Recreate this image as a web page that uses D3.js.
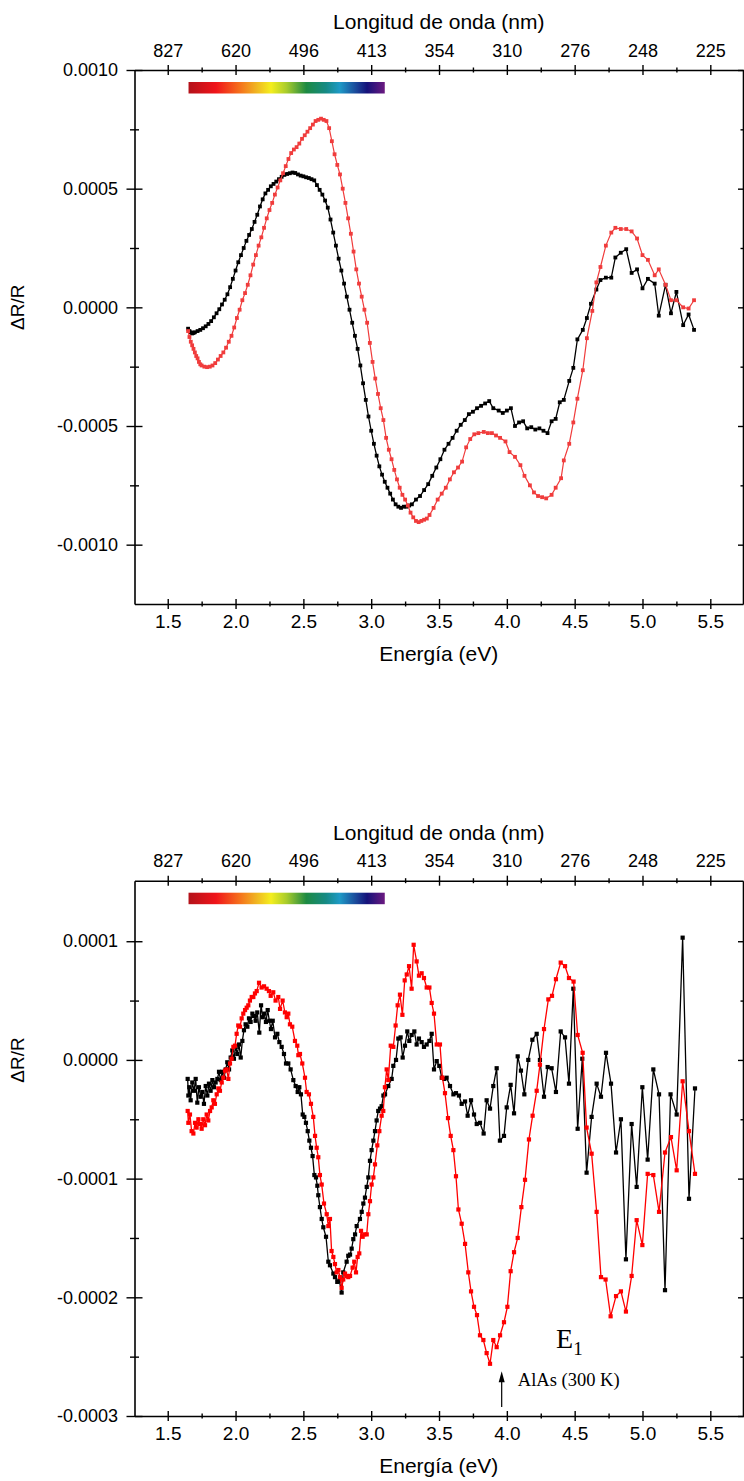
<!DOCTYPE html>
<html>
<head>
<meta charset="utf-8">
<script src="https://cdn.jsdelivr.net/npm/d3@7"></script>
<style>
  body { margin: 0; background: #fff; }
  svg { display: block; }
  text { font-family: "Liberation Sans", Arial, sans-serif; fill: #000; }
</style>
</head>
<body>
<div id="chart"></div>
<script>
/**********************/
/******* data         */
/**********************/

// energy ticks (eV) and the matching wavelength labels of the top axis
const energyTicks = [1.5, 2.0, 2.5, 3.0, 3.5, 4.0, 4.5, 5.0, 5.5];
const energyMinor = [1.75, 2.25, 2.75, 3.25, 3.75, 4.25, 4.75, 5.25];
const waveLabels = ["827", "620", "496", "413", "354", "310", "276", "248", "225"];

// visible spectrum bar (nm) and its colours
const spectrumNm = [750, 400];
const spectrumStops = [
    [0.00, "#b3121a"], [0.14, "#f0141a"], [0.26, "#f5701c"], [0.35, "#f0b822"],
    [0.42, "#f4ee1e"], [0.50, "#a8cc2c"], [0.60, "#1d8a42"], [0.70, "#168a84"],
    [0.77, "#1e9ac6"], [0.85, "#1b4c9c"], [0.91, "#15127a"], [1.00, "#6c1a80"]
];

// top panel, [E (eV), dR/R in units of 1e-4]
const topYMajor = [0.0010, 0.0005, 0.0000, -0.0005, -0.0010];
const topYMinor = [0.00075, 0.00025, -0.00025, -0.00075];
const topBlack = [
    [1.65,-0.9],[1.66,-1.0],[1.67,-1.05],[1.68,-1.1],[1.69,-1.08],[1.70,-1.05],[1.72,-1.0],[1.74,-0.95],
    [1.76,-0.88],[1.78,-0.8],[1.80,-0.7],[1.82,-0.58],[1.84,-0.42],[1.86,-0.25],[1.88,-0.08],[1.90,0.12],
    [1.92,0.32],[1.94,0.55],[1.96,0.85],[1.98,1.2],[2.00,1.55],[2.02,1.9],[2.04,2.2],[2.06,2.5],
    [2.08,2.8],[2.10,3.05],[2.12,3.3],[2.14,3.6],[2.16,3.9],[2.18,4.25],[2.20,4.55],[2.22,4.8],
    [2.24,4.95],[2.26,5.1],[2.28,5.2],[2.30,5.3],[2.32,5.4],[2.34,5.5],[2.36,5.58],[2.38,5.62],
    [2.40,5.65],[2.42,5.68],[2.44,5.66],[2.46,5.6],[2.48,5.55],[2.50,5.52],[2.52,5.48],[2.54,5.45],
    [2.56,5.4],[2.58,5.35],[2.60,5.15],[2.62,4.95],[2.64,4.75],[2.66,4.5],[2.68,4.2],[2.70,3.7],
    [2.72,3.15],[2.74,2.6],[2.76,2.05],[2.78,1.55],[2.80,1.0],[2.82,0.45],[2.84,-0.1],[2.86,-0.65],
    [2.88,-1.2],[2.90,-1.75],[2.92,-2.45],[2.94,-3.2],[2.96,-3.9],[2.98,-4.6],[3.00,-5.2],[3.02,-5.75],
    [3.04,-6.25],[3.06,-6.7],[3.08,-7.05],[3.10,-7.35],[3.12,-7.6],[3.14,-7.85],[3.16,-8.1],[3.18,-8.3],
    [3.20,-8.4],[3.22,-8.45],[3.24,-8.4],[3.26,-8.4],[3.28,-8.35],[3.30,-8.3],[3.33,-8.1],[3.36,-7.95],
    [3.39,-7.7],[3.42,-7.45],[3.45,-7.1],[3.48,-6.75],[3.51,-6.4],[3.54,-6.0],[3.57,-5.75],[3.60,-5.5],
    [3.63,-5.2],[3.66,-4.95],[3.69,-4.75],[3.72,-4.5],[3.75,-4.4],[3.78,-4.25],[3.81,-4.15],[3.84,-4.05],
    [3.87,-3.95],[3.90,-4.25],[3.94,-4.35],[3.97,-4.45],[4.00,-4.35],[4.03,-4.25],[4.06,-5.0],[4.09,-4.85],
    [4.12,-4.8],[4.15,-5.1],[4.18,-5.05],[4.21,-5.15],[4.24,-5.1],[4.27,-5.2],[4.30,-5.3],[4.33,-4.8],
    [4.36,-4.7],[4.39,-4.0],[4.42,-3.9],[4.46,-3.1],[4.49,-2.55],[4.52,-1.35],[4.56,-0.95],[4.59,-0.45],
    [4.62,0.15],[4.66,0.75],[4.69,1.15],[4.73,1.25],[4.77,1.25],[4.80,2.1],[4.84,2.3],[4.88,2.45],
    [4.92,1.45],[4.96,1.6],[5.00,0.8],[5.04,1.2],[5.09,1.0],[5.12,-0.35],[5.17,0.95],[5.21,-0.25],
    [5.25,0.65],[5.30,-0.75],[5.34,-0.3],[5.38,-0.95]
];
const topRed = [
    [1.65,-1.0],[1.66,-1.25],[1.67,-1.45],[1.68,-1.6],[1.69,-1.75],[1.70,-1.9],[1.71,-2.05],[1.72,-2.15],
    [1.73,-2.3],[1.74,-2.4],[1.75,-2.45],[1.77,-2.5],[1.79,-2.52],[1.81,-2.5],[1.83,-2.45],[1.85,-2.35],
    [1.87,-2.2],[1.89,-2.05],[1.91,-1.9],[1.93,-1.7],[1.95,-1.45],[1.97,-1.2],[1.99,-0.85],[2.01,-0.45],
    [2.03,-0.1],[2.05,0.3],[2.07,0.6],[2.09,0.95],[2.11,1.35],[2.13,1.8],[2.15,2.2],[2.17,2.6],
    [2.19,2.95],[2.21,3.35],[2.23,3.75],[2.25,4.1],[2.27,4.4],[2.29,4.75],[2.31,5.05],[2.33,5.35],
    [2.35,5.65],[2.37,5.95],[2.39,6.25],[2.41,6.5],[2.43,6.65],[2.45,6.75],[2.47,6.9],[2.49,7.1],
    [2.51,7.25],[2.53,7.4],[2.55,7.55],[2.57,7.7],[2.59,7.85],[2.61,7.9],[2.63,7.95],[2.65,7.9],
    [2.67,7.85],[2.69,7.55],[2.71,7.0],[2.73,6.45],[2.75,6.0],[2.77,5.6],[2.79,5.0],[2.81,4.4],
    [2.83,3.75],[2.85,3.1],[2.87,2.35],[2.89,1.6],[2.91,1.0],[2.93,0.45],[2.95,-0.1],[2.97,-0.65],
    [2.99,-1.5],[3.01,-2.3],[3.03,-3.0],[3.05,-3.65],[3.07,-4.25],[3.09,-4.75],[3.11,-5.5],[3.13,-6.0],
    [3.15,-6.4],[3.17,-6.85],[3.19,-7.25],[3.21,-7.6],[3.23,-7.9],[3.25,-8.1],[3.27,-8.35],[3.29,-8.65],
    [3.31,-8.85],[3.33,-9.0],[3.35,-9.05],[3.37,-9.0],[3.39,-8.95],[3.41,-8.9],[3.43,-8.75],[3.46,-8.45],
    [3.49,-8.1],[3.52,-7.85],[3.55,-7.6],[3.58,-7.25],[3.61,-6.95],[3.64,-6.75],[3.67,-6.5],[3.70,-5.9],
    [3.73,-5.55],[3.76,-5.35],[3.79,-5.3],[3.83,-5.25],[3.86,-5.3],[3.89,-5.3],[3.92,-5.4],[3.95,-5.5],
    [3.99,-5.65],[4.02,-6.1],[4.06,-6.3],[4.10,-6.65],[4.13,-7.1],[4.17,-7.5],[4.20,-7.8],[4.23,-7.95],
    [4.26,-8.0],[4.29,-8.05],[4.33,-7.9],[4.36,-7.6],[4.40,-7.2],[4.42,-6.45],[4.46,-5.75],[4.49,-4.85],
    [4.52,-3.85],[4.56,-2.65],[4.59,-1.3],[4.63,-0.15],[4.66,1.05],[4.69,1.7],[4.73,2.6],[4.77,3.15],
    [4.80,3.35],[4.84,3.3],[4.88,3.3],[4.92,3.2],[4.96,2.9],[5.00,2.2],[5.04,2.0],[5.09,1.35],
    [5.12,1.6],[5.17,0.95],[5.21,0.3],[5.25,0.3],[5.30,0.0],[5.34,-0.05],[5.38,0.3]
];

// bottom panel, [E (eV), dR/R in units of 1e-5]
const botYMajor = [0.0001, 0.0000, -0.0001, -0.0002, -0.0003];
const botYMinor = [0.00005, -0.00005, -0.00015, -0.00025];
const botBlack = [
    [1.647,-1.6],[1.652,-3.0],[1.659,-2.3],[1.669,-3.4],[1.681,-1.9],[1.694,-2.6],[1.706,-1.6],[1.718,-3.6],
    [1.730,-2.3],[1.743,-3.1],[1.755,-2.7],[1.767,-3.7],[1.780,-2.2],[1.792,-3.0],[1.804,-2.0],[1.816,-2.6],
    [1.829,-1.7],[1.841,-2.3],[1.853,-1.9],[1.866,-1.6],[1.878,-1.0],[1.890,-1.7],[1.902,-1.0],[1.915,-1.5],
    [1.927,-0.8],[1.939,-0.2],[1.952,-0.8],[1.964,0.2],[1.976,0.8],[1.988,0.1],[2.001,1.1],[2.013,0.5],
    [2.025,1.3],[2.038,0.2],[2.050,1.6],[2.062,2.5],[2.074,3.0],[2.087,2.8],[2.099,3.5],[2.111,3.2],
    [2.124,3.9],[2.136,3.7],[2.148,3.3],[2.160,4.0],[2.175,2.3],[2.188,4.6],[2.200,3.6],[2.212,3.9],
    [2.224,3.2],[2.237,4.2],[2.249,3.3],[2.261,2.6],[2.274,3.3],[2.291,1.9],[2.308,2.2],[2.323,1.5],
    [2.340,1.1],[2.357,0.5],[2.372,-0.3],[2.389,-0.3],[2.406,-0.8],[2.426,-1.7],[2.443,-2.2],[2.458,-2.7],
    [2.470,-2.3],[2.482,-2.9],[2.495,-4.6],[2.507,-4.8],[2.519,-5.3],[2.532,-6.0],[2.544,-6.8],[2.556,-7.4],
    [2.568,-8.1],[2.581,-9.7],[2.593,-9.9],[2.603,-10.6],[2.610,-11.4],[2.622,-12.4],[2.635,-13.4],[2.647,-14.1],
    [2.667,-14.9],[2.684,-17.0],[2.696,-17.3],[2.721,-18.0],[2.733,-18.3],[2.750,-18.7],[2.765,-18.6],[2.782,-19.6],
    [2.794,-17.9],[2.819,-17.0],[2.831,-16.5],[2.844,-16.4],[2.856,-15.9],[2.868,-15.1],[2.881,-14.7],[2.893,-14.0],
    [2.917,-13.4],[2.930,-12.8],[2.942,-12.1],[2.954,-11.6],[2.967,-10.7],[2.979,-9.9],[2.991,-8.5],[3.003,-7.6],
    [3.016,-6.8],[3.028,-6.0],[3.040,-5.1],[3.052,-4.3],[3.065,-4.1],[3.077,-3.9],[3.090,-3.0],[3.102,-2.9],
    [3.126,-2.2],[3.151,-1.6],[3.163,-0.5],[3.183,0.0],[3.200,1.8],[3.217,1.9],[3.232,0.2],[3.249,1.2],
    [3.266,2.4],[3.281,1.6],[3.298,2.1],[3.318,2.4],[3.335,1.3],[3.352,1.8],[3.372,1.5],[3.389,1.1],
    [3.409,1.3],[3.429,1.6],[3.446,2.2],[3.463,-0.8],[3.483,-0.1],[3.502,-0.5],[3.520,-1.5],[3.539,-1.6],
    [3.556,-1.5],[3.581,-2.2],[3.606,-2.9],[3.625,-2.8],[3.647,-3.0],[3.667,-3.7],[3.692,-3.5],[3.711,-4.7],
    [3.736,-3.4],[3.758,-4.6],[3.778,-5.4],[3.802,-5.3],[3.829,-6.2],[3.851,-3.4],[3.876,-4.1],[3.900,-2.2],
    [3.925,-0.7],[3.949,-6.8],[3.979,-6.4],[3.999,-4.0],[4.028,-2.1],[4.053,-4.5],[4.080,0.3],[4.104,-0.9],
    [4.129,-2.9],[4.158,0.0],[4.188,1.7],[4.220,2.2],[4.244,0.0],[4.274,-3.1],[4.301,-0.6],[4.330,-0.7],
    [4.362,-2.7],[4.397,2.4],[4.429,1.9],[4.458,-2.0],[4.490,6.0],[4.522,-5.8],[4.556,0.1],[4.588,-9.5],
    [4.625,-4.8],[4.662,-2.0],[4.694,-3.1],[4.731,0.6],[4.768,-2.0],[4.805,-7.8],[4.841,-5.0],[4.878,-16.8],
    [4.920,-5.4],[4.957,-10.7],[4.999,-2.3],[5.038,-8.4],[5.080,-0.8],[5.122,-2.9],[5.166,-19.4],[5.207,-2.9],
    [5.252,-4.6],[5.296,10.3],[5.343,-11.7],[5.387,-2.4]
];
const botRed = [
    [1.647,-4.3],[1.652,-5.3],[1.664,-4.6],[1.676,-6.0],[1.689,-6.2],[1.701,-5.3],[1.713,-5.7],[1.726,-5.0],
    [1.738,-5.4],[1.750,-5.8],[1.762,-5.0],[1.775,-5.5],[1.787,-4.6],[1.799,-5.1],[1.812,-4.3],[1.824,-4.0],
    [1.836,-3.4],[1.848,-3.7],[1.861,-2.9],[1.873,-2.4],[1.885,-2.6],[1.898,-1.9],[1.910,-1.5],[1.922,-0.9],
    [1.934,-0.8],[1.947,-1.6],[1.959,-0.3],[1.971,0.1],[1.984,1.1],[1.996,1.2],[2.008,2.2],[2.020,2.9],
    [2.033,2.8],[2.045,3.5],[2.057,3.9],[2.070,4.2],[2.082,4.4],[2.094,4.6],[2.106,5.0],[2.119,5.3],
    [2.131,5.3],[2.143,5.6],[2.156,5.8],[2.173,6.5],[2.192,6.1],[2.210,6.2],[2.229,6.0],[2.246,5.8],
    [2.259,5.4],[2.278,5.7],[2.295,5.0],[2.315,5.3],[2.328,4.3],[2.347,5.0],[2.364,4.0],[2.377,3.6],
    [2.389,3.9],[2.401,3.0],[2.418,2.8],[2.438,1.6],[2.455,1.2],[2.463,0.4],[2.475,0.5],[2.492,-0.3],
    [2.512,-1.5],[2.524,-2.7],[2.541,-2.9],[2.556,-3.7],[2.573,-4.8],[2.586,-6.4],[2.598,-7.4],[2.610,-8.2],
    [2.622,-9.7],[2.635,-10.5],[2.652,-12.1],[2.672,-13.0],[2.684,-14.0],[2.696,-13.4],[2.708,-16.1],[2.721,-16.6],
    [2.733,-17.2],[2.745,-17.9],[2.758,-17.7],[2.770,-18.3],[2.782,-19.2],[2.794,-18.5],[2.807,-18.0],[2.819,-18.2],
    [2.831,-18.3],[2.844,-18.2],[2.863,-17.5],[2.875,-17.0],[2.888,-17.9],[2.900,-16.6],[2.912,-16.3],[2.925,-14.4],
    [2.937,-14.9],[2.949,-14.7],[2.967,-14.7],[2.979,-13.0],[2.991,-11.9],[3.003,-10.5],[3.016,-9.9],[3.028,-8.8],
    [3.045,-7.2],[3.060,-6.0],[3.077,-4.7],[3.089,-4.3],[3.101,-2.3],[3.114,-0.8],[3.126,-1.7],[3.144,1.2],
    [3.163,1.1],[3.180,2.9],[3.195,4.6],[3.212,5.5],[3.230,3.8],[3.247,6.7],[3.262,7.2],[3.279,7.9],
    [3.298,6.0],[3.313,9.7],[3.335,8.3],[3.352,7.1],[3.372,7.3],[3.389,6.9],[3.409,6.1],[3.429,6.1],
    [3.446,4.8],[3.463,3.9],[3.483,1.3],[3.507,1.3],[3.525,-1.5],[3.544,-2.8],[3.566,-4.9],[3.586,-6.4],
    [3.606,-7.6],[3.625,-9.8],[3.643,-12.6],[3.667,-13.8],[3.692,-15.5],[3.716,-17.9],[3.736,-19.5],[3.758,-20.8],
    [3.780,-21.5],[3.802,-23.2],[3.827,-23.6],[3.851,-24.7],[3.876,-25.6],[3.900,-23.6],[3.925,-24.2],[3.950,-23.2],
    [3.979,-22.1],[4.004,-20.8],[4.028,-17.8],[4.053,-16.2],[4.080,-15.0],[4.107,-12.4],[4.134,-10.1],[4.163,-6.7],
    [4.190,-4.7],[4.220,-2.6],[4.244,-0.4],[4.274,2.6],[4.306,5.1],[4.333,5.4],[4.362,6.8],[4.397,8.2],
    [4.429,7.9],[4.458,6.9],[4.492,6.6],[4.522,2.1],[4.559,0.6],[4.588,-5.7],[4.625,-7.9],[4.662,-12.8],
    [4.694,-18.3],[4.728,-18.5],[4.765,-21.6],[4.805,-19.9],[4.841,-19.5],[4.878,-21.2],[4.920,-18.2],[4.957,-13.5],
    [4.999,-15.6],[5.038,-9.6],[5.080,-9.7],[5.122,-12.8],[5.166,-7.8],[5.210,-6.5],[5.252,-9.3],[5.296,-1.8],
    [5.343,-6.0],[5.387,-9.6]
];

// annotation of the bottom panel
const alAsArrow = { e: 3.962, from: -0.0002925, to: -0.0002622 };
const alAsLabel = { e: 4.081, v: -0.0002751, text: "AlAs (300 K)" };
const e1Label = { e: 4.363, v: -0.0002431 };

/**********************/
/******* d3           */
/**********************/

const width = 744, height = 1481;

const svg = d3.select("#chart")
    .append("svg")
    .attr("width", width)
    .attr("height", height);

const x = d3.scaleLinear().domain([1.255, 5.741]).range([134.5, 743]);

const grad = svg.append("defs").append("linearGradient").attr("id", "spectrum");
grad.selectAll("stop")
    .data(spectrumStops)
    .enter()
    .append("stop")
    .attr("offset", d => d[0])
    .attr("stop-color", d => d[1]);

function yLabel(v) {
    if (Math.abs(v) < 1e-12) return "0.0000";
    return v.toFixed(4);
}

// ticks that cross the axis line
function crossTicks(sel, a, b) {
    sel.selectAll(".tick line").attr(a + "1", -b).attr(a + "2", b);
}

function makePanel(p) {
    const y = d3.scaleLinear().domain(p.yDomain).range([p.bottom, p.top]);
    const g = svg.append("g");

    // spectrum bar
    g.append("rect")
        .attr("x", x(1240 / spectrumNm[0]))
        .attr("y", p.top + 12)
        .attr("width", x(1240 / spectrumNm[1]) - x(1240 / spectrumNm[0]))
        .attr("height", 11.5)
        .style("fill", "url(#spectrum)");

    // series
    p.series.forEach(s => {
        const pts = s.data.map(d => [x(d[0]), y(d[1] * p.unit)]);
        g.append("path")
            .attr("d", d3.line()(pts))
            .style("fill", "none")
            .style("stroke", s.color)
            .style("stroke-width", s.lw);
        g.selectAll(null)
            .data(pts)
            .enter()
            .append("rect")
            .attr("x", d => d[0] - s.size / 2)
            .attr("y", d => d[1] - s.size / 2)
            .attr("width", s.size)
            .attr("height", s.size)
            .style("fill", s.color);
    });

    // bottom axis
    const ab = g.append("g").attr("transform", `translate(0, ${p.bottom})`)
        .call(d3.axisBottom(x).tickValues(energyTicks).tickFormat(d3.format(".1f")).tickSizeOuter(0));
    crossTicks(ab, "y", 5);
    ab.selectAll("text").attr("y", 24).attr("dy", null).style("font-size", "19px");
    const abm = g.append("g").attr("transform", `translate(0, ${p.bottom})`)
        .call(d3.axisBottom(x).tickValues(energyMinor).tickFormat("").tickSizeOuter(0));
    crossTicks(abm, "y", 2.5);
    abm.select(".domain").remove();

    // top axis, wavelength
    const at = g.append("g").attr("transform", `translate(0, ${p.top})`)
        .call(d3.axisTop(x).tickValues(energyTicks).tickFormat((d, i) => waveLabels[i]).tickSizeOuter(0));
    crossTicks(at, "y", 5);
    at.selectAll("text").attr("y", -13.5).attr("dy", null).style("font-size", "18px");
    const atm = g.append("g").attr("transform", `translate(0, ${p.top})`)
        .call(d3.axisTop(x).tickValues(energyMinor).tickFormat("").tickSizeOuter(0));
    crossTicks(atm, "y", 2.5);
    atm.select(".domain").remove();

    // left axis
    const al = g.append("g").attr("transform", `translate(${x.range()[0]}, 0)`)
        .call(d3.axisLeft(y).tickValues(p.yMajor).tickFormat(yLabel).tickSizeOuter(0));
    crossTicks(al, "x", 8);
    al.selectAll("text").attr("x", -16.5).style("font-size", "18px");
    const alm = g.append("g").attr("transform", `translate(${x.range()[0]}, 0)`)
        .call(d3.axisLeft(y).tickValues(p.yMinor).tickFormat("").tickSizeOuter(0));
    crossTicks(alm, "x", 4.5);
    alm.select(".domain").remove();

    // right axis
    const ar = g.append("g").attr("transform", `translate(${x.range()[1]}, 0)`)
        .call(d3.axisRight(y).tickValues(p.yMajor).tickFormat("").tickSizeOuter(0));
    crossTicks(ar, "x", 5);
    const arm = g.append("g").attr("transform", `translate(${x.range()[1]}, 0)`)
        .call(d3.axisRight(y).tickValues(p.yMinor).tickFormat("").tickSizeOuter(0));
    crossTicks(arm, "x", 2.5);
    arm.select(".domain").remove();

    g.selectAll(".domain").style("stroke-width", 1.6);
    g.selectAll(".tick line").style("stroke-width", 1.4);
    g.selectAll(".tick text").style("font-family", "'Liberation Sans', Arial, sans-serif");

    // titles
    const xc = (x.range()[0] + x.range()[1]) / 2;
    g.append("text")
        .attr("x", xc).attr("y", p.top - 41)
        .attr("text-anchor", "middle")
        .style("font-size", "21px")
        .text("Longitud de onda (nm)");
    g.append("text")
        .attr("x", xc).attr("y", p.bottom + 57)
        .attr("text-anchor", "middle")
        .style("font-size", "21px")
        .text("Energía (eV)");
    g.append("text")
        .attr("transform", `translate(24, ${y(0)}) rotate(-90)`)
        .attr("text-anchor", "middle")
        .style("font-size", "19px")
        .text("ΔR/R");

    return { g: g, y: y };
}

makePanel({
    top: 70, bottom: 604, unit: 1e-4,
    yDomain: [-0.00125, 0.0010], yMajor: topYMajor, yMinor: topYMinor,
    series: [
        { data: topBlack, color: "#000", lw: 1.3, size: 3.8 },
        { data: topRed, color: "#f03c3c", lw: 1.2, size: 3.8 }
    ]
});

const bot = makePanel({
    top: 880.7, bottom: 1416, unit: 1e-5,
    yDomain: [-0.0003, 0.000151], yMajor: botYMajor, yMinor: botYMinor,
    series: [
        { data: botBlack, color: "#000", lw: 1.3, size: 4.2 },
        { data: botRed, color: "#ff0000", lw: 1.3, size: 4.2 }
    ]
});

// E1 / AlAs annotation
const ax = x(alAsArrow.e);
bot.g.append("line")
    .attr("x1", ax).attr("x2", ax)
    .attr("y1", bot.y(alAsArrow.from)).attr("y2", bot.y(alAsArrow.to) + 8)
    .style("stroke", "#000").style("stroke-width", 1.2);
bot.g.append("path")
    .attr("d", `M${ax},${bot.y(alAsArrow.to)} L${ax - 3},${bot.y(alAsArrow.to) + 11} L${ax + 3},${bot.y(alAsArrow.to) + 11} Z`)
    .style("fill", "#000");
bot.g.append("text")
    .attr("x", x(alAsLabel.e)).attr("y", bot.y(alAsLabel.v))
    .style("font-family", "'Liberation Serif', 'Times New Roman', serif")
    .style("font-size", "18.5px")
    .text(alAsLabel.text);
const e1 = bot.g.append("text")
    .attr("x", x(e1Label.e)).attr("y", bot.y(e1Label.v))
    .style("font-family", "'Liberation Serif', 'Times New Roman', serif")
    .style("font-size", "28px");
e1.append("tspan").text("E");
e1.append("tspan").attr("dy", 7).style("font-size", "19px").text("1");
</script>
</body>
</html>
